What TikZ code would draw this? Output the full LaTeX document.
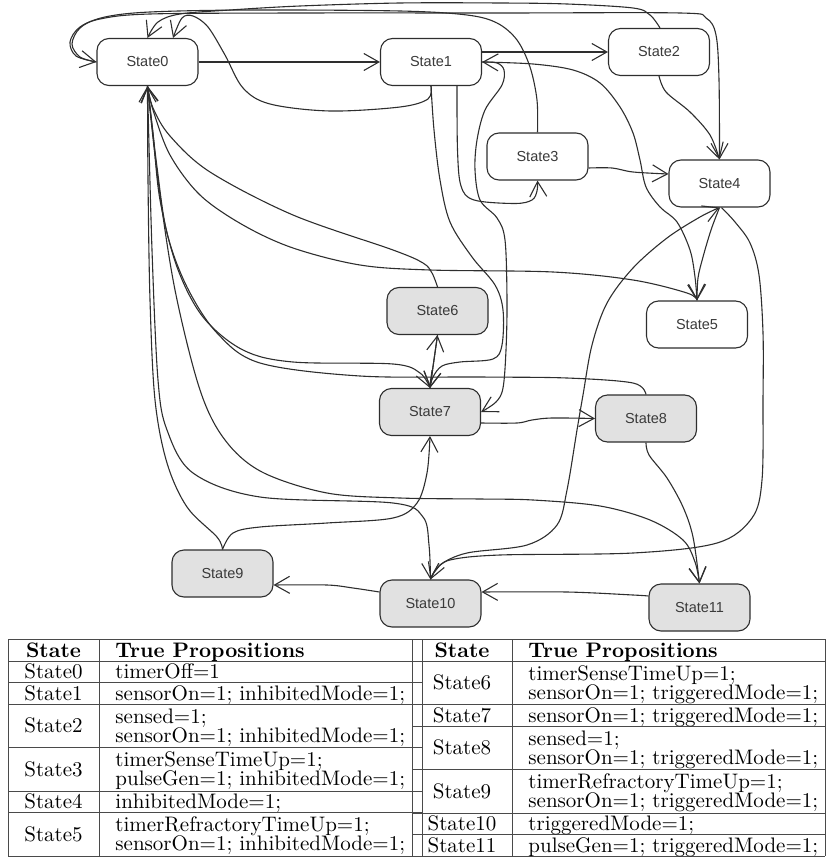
\documentclass[tikz,border=0pt]{standalone}
\usepackage{fontspec}
\newfontfamily\statefont{Liberation Sans}
\usetikzlibrary{arrows.meta}
\definecolor{linegray}{HTML}{2E2E2E}
\definecolor{stategray}{HTML}{E1E1E1}
\definecolor{labelgray}{HTML}{3A3A3A}
\definecolor{rulegray}{HTML}{4A4A4A}
\begin{document}
\begin{tikzpicture}[x=1pt,y=-1pt,
  state/.style={draw=linegray, line width=1.1pt, rounded corners=12pt,
    minimum width=101pt, minimum height=47pt, inner sep=0pt, fill=white,
    text=labelgray, font=\statefont\fontsize{14.5}{17}\selectfont},
  trig/.style={state, fill=stategray},
  edge/.style={draw=linegray, line width=1.1pt,
    -{Straight Barb[length=15pt,width=17pt,line width=1.1pt]}},
  link/.style={draw=linegray, line width=1.1pt},
  rule/.style={draw=rulegray, line width=1pt},
  tcell/.style={inner sep=0pt, font=\fontsize{10}{12}\selectfont, scale=2.1, transform shape},
  tstate/.style={tcell, anchor=base},
  tprop/.style={tcell, anchor=base west},
  smoothpath/.style={smooth, tension=0.55}]
\useasboundingbox (0,0) rectangle (830,861);

% ---------------- states ----------------
\node[state] (s0) at (147.5,62) {State0};
\node[state] (s1) at (431,62) {State1};
\node[state] (s2) at (659,52) {State2};
\node[state] (s3) at (537.5,156.5) {State3};
\node[state] (s4) at (719.5,183.5) {State4};
\node[state] (s5) at (697,324.5) {State5};
\node[trig] (s6) at (437.5,311) {State6};
\node[trig] (s7) at (430,412) {State7};
\node[trig] (s8) at (646,418.5) {State8};
\node[trig] (s9) at (222.5,573.5) {State9};
\node[trig] (s10) at (430.5,603.5) {State10};
\node[trig] (s11) at (699.5,607.5) {State11};

% ---------------- transitions ----------------
\draw[edge] (s0.east) -- (s1.west);
\draw[edge] (s1.east |- s2.west) -- (s2.west);
\draw[edge] plot[smoothpath] coordinates {([xshift=26pt]s1.south) (457.5,150) (461,186) (474,200) (515,203.5) (532,200) (537,191) (s3.south)};
\draw[edge] plot[smoothpath] coordinates {([yshift=-11.5pt]s3.east) (612,168) (633,172) ([yshift=9.5pt]s4.west)};
\draw[edge] plot[smoothpath] coordinates {(s2.south) (666,92) (690,112) (710,135) (s4.north)};

% long arcs over the top
\draw[edge] plot[smoothpath] coordinates {(s0.west) (80,57) (72,44) (80,28) (100,19) (150,14) (300,13) (500,13) (680,13) (706,18) (716,35) (719,80) (s4.north)};
\draw[edge] plot[smoothpath] coordinates {(s3.north) (537,100) (530,67) (517,40) (497,23) (467,15) (400,11) (250,10) (150,12) (105,17) (80,27) (70,42) (76,56) (s0.west)};
\draw[edge] plot[smoothpath] coordinates {([xshift=1pt]s2.north) (650,15) (633,8) (567,4) (500,3) (400,3) (300,6) (230,10) (180,14) (158,22) (s0.north)};
\draw[edge] plot[smoothpath] coordinates {(s1.south) (428,99) (400,107) (330,111) (270,104) (243,88) (225,55) (208,27) (193,16) (182,18) ([xshift=25.5pt]s0.north)};

% from State1 downwards
\draw[edge] plot[smoothpath] coordinates {(s1.south) (434,130) (440,180) (450,222) (472,257) (495,285) (503,310) (502,345) (493,359) (460,362) (442,366) (433,377) (s7.north)};
\draw[edge] plot[smoothpath] coordinates {(s1.east) (497,63) (504,70) (502,85) (485,110) (477,140) (475,170) (480,200) (497,218) (505,240) (507,300) (506,350) (503,388) (496,402) (s7.east)};
\draw[edge] plot[smoothpath] coordinates {(s5.north) (695,277) (690,250) (677,222) (660,207) (646,187) (640,160) (633,133) (620,107) (600,83) (573,70) (533,64) (s1.east)};

% around State4 and State5
\draw[edge] plot[smoothpath] coordinates {(s0.south) (153,110) (170,155) (200,195) (243,225) (293,248) (360,265) (430,270) (553,272) (633,280) (687,293) (s5.north)};
\draw[edge] plot[smoothpath] coordinates {(s4.south) (711,230) (703,257) (698,278) (s5.north)};
\draw[edge] plot[smoothpath] coordinates {(s10.north) (440,565) (467,553) (527,545) (557,525) (567,490) (577,430) (583,395) (592,345) (607,303) (633,268) (667,238) (700,217) (s4.south)};
\draw[edge] plot[smoothpath] coordinates {([xshift=2pt]s4.south) (735,222) (750,243) (759,275) (763,333) (763,400) (762,480) (752,518) (717,543) (633,553) (500,555) (450,560) (436,570) (s10.north)};

% returns to State0 and the triggered states
\draw[edge] plot[smoothpath] coordinates {(s6.north) (432,273) (423,263) (393,250) (293,215) (210,172) (170,136) (153,108) (s0.south)};
\draw[edge] (s7.north) -- (s6.south);
\draw[edge] (s6.south) -- (s7.north);
\draw[edge] plot[smoothpath] coordinates {(s0.south) (153,133) (160,200) (177,267) (203,317) (243,350) (293,362) (393,364) (420,373) (s7.north)};
\draw[edge] plot[smoothpath] coordinates {(s8.north) (633,383) (567,378) (480,377) (360,376) (260,363) (217,333) (187,287) (167,233) (157,167) (s0.south)};
\draw[edge] plot[smoothpath] coordinates {([yshift=-11pt]s7.east) (517,423) (532,420) (552,418) (s8.west)};
\draw[edge] plot[smoothpath] coordinates {(s8.south) (649,455) (667,478) (683,507) (693,537) (s11.north)};
\draw[edge] plot[smoothpath] coordinates {(s0.south) (158,180) (175,290) (200,390) (225,440) (262,472) (327,493) (400,498) (480,499) (533,500) (600,506) (650,520) (683,540) (695,562) (s11.north)};
\draw[edge] plot[smoothpath] coordinates {(s0.south) (152,250) (158,380) (167,430) (193,473) (260,497) (393,503) (423,517) (429,545) (s10.north)};
\draw[edge] plot[smoothpath] coordinates {(s9.north) (217,537) (187,507) (167,463) (155,400) (150,300) (148,180) (s0.south)};
\draw[edge] plot[smoothpath] coordinates {(s9.north) (233,533) (260,527) (327,523) (393,518) (417,503) (427,473) (s7.south)};
\draw[edge] plot[smoothpath] coordinates {([yshift=11.5pt]s10.west) (353,588) (327,585) ([yshift=-11.5pt]s9.east)};
\draw[edge] plot[smoothpath] coordinates {([yshift=11.5pt]s11.west) (633,595) (567,592) ([yshift=11.5pt]s10.east)};

% ---------------- proposition table ----------------
% frame and column rules
\draw[rule] (8,639) -- (825,639);
\draw[rule] (8,856) -- (825,856);
\foreach \cx in {8,99,412,422,512,825} \draw[rule] (\cx,639) -- (\cx,856);
% left half row rules
\foreach \ry in {661,682.5,704,747.5,791,812.5} \draw[rule] (8,\ry) -- (422,\ry);
% right half row rules
\foreach \ry in {661,704.5,726,769.5,813,834.5} \draw[rule] (412,\ry) -- (825,\ry);

% headers
\node[tstate] (hl1) at (53.5,657) {\bfseries State};
\node[tprop] (hl2) at (115,657) {\bfseries True Propositions};
\node[tstate] (hr1) at (462,657) {\bfseries State};
\node[tprop] (hr2) at (528,657) {\bfseries True Propositions};

% left half
\node[tstate] (l0) at (53.5,678.75) {State0};
\node[tprop] (p0) at (115,678.75) {timerOff=1};
\node[tstate] (l1) at (53.5,700.25) {State1};
\node[tprop] (p1) at (115,700.25) {sensorOn=1; inhibitedMode=1;};
\node[tstate] (l2) at (53.5,732.75) {State2};
\node[tprop] (p2a) at (115,723.25) {sensed=1;};
\node[tprop] (p2b) at (115,742.25) {sensorOn=1; inhibitedMode=1;};
\node[tstate] (l3) at (53.5,776.25) {State3};
\node[tprop] (p3a) at (115,766.75) {timerSenseTimeUp=1;};
\node[tprop] (p3b) at (115,785.75) {pulseGen=1; inhibitedMode=1;};
\node[tstate] (l4) at (53.5,808.75) {State4};
\node[tprop] (p4) at (115,808.75) {inhibitedMode=1;};
\node[tstate] (l5) at (53.5,841.25) {State5};
\node[tprop] (p5a) at (115,831.75) {timerRefractoryTimeUp=1;};
\node[tprop] (p5b) at (115,850.75) {sensorOn=1; inhibitedMode=1;};

% right half
\node[tstate] (l6) at (462,689.75) {State6};
\node[tprop] (p6a) at (528,680.25) {timerSenseTimeUp=1;};
\node[tprop] (p6b) at (528,699.25) {sensorOn=1; triggeredMode=1;};
\node[tstate] (l7) at (462,722.25) {State7};
\node[tprop] (p7) at (528,722.25) {sensorOn=1; triggeredMode=1;};
\node[tstate] (l8) at (462,754.75) {State8};
\node[tprop] (p8a) at (528,745.25) {sensed=1;};
\node[tprop] (p8b) at (528,764.25) {sensorOn=1; triggeredMode=1;};
\node[tstate] (l9) at (462,798.25) {State9};
\node[tprop] (p9a) at (528,788.75) {timerRefractoryTimeUp=1;};
\node[tprop] (p9b) at (528,807.75) {sensorOn=1; triggeredMode=1;};
\node[tstate] (l10) at (462,830.75) {State10};
\node[tprop] (p10) at (528,830.75) {triggeredMode=1;};
\node[tstate] (l11) at (462,852.25) {State11};
\node[tprop] (p11) at (528,852.25) {pulseGen=1; triggeredMode=1;};
\end{tikzpicture}
\end{document}
